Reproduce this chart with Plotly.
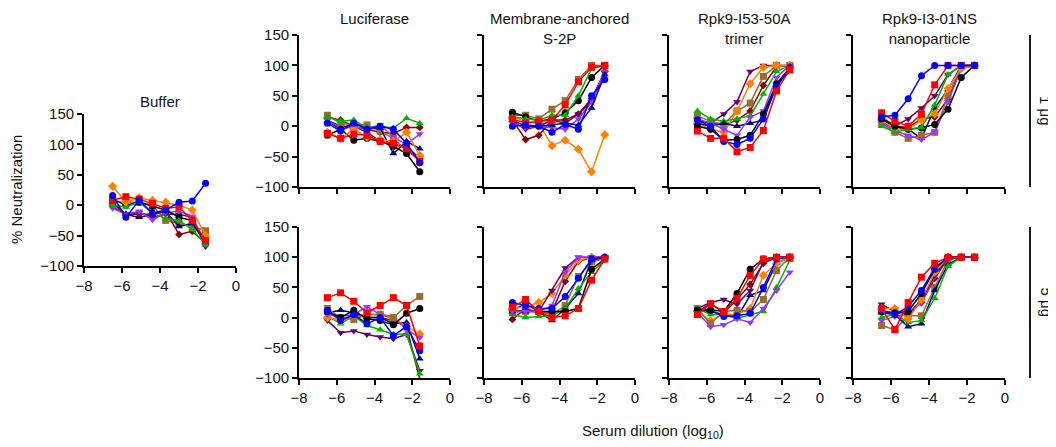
import plotly.graph_objects as go

W, H = 1056, 447
OFF = 8  # page body margin of the browser shifts the figure by 8 px

# ---------------- data ----------------
X_LOG_DIL = [-6.495, -5.796, -5.097, -4.398, -3.699, -3.0, -2.301, -1.602]
X_TICKS = [-8, -6, -4, -2, 0]
Y_TICKS = [-100, -50, 0, 50, 100, 150]
ROW_LABELS = ["1 μg", "5 μg"]
COL_TITLES = ["Luciferase", "Membrane-anchored<br>S-2P", "Rpk9-I53-50A<br>trimer", "Rpk9-I3-01NS<br>nanoparticle"]

BUFFER = {
    "brown":  [5, 5, 5, 0, -25, -30, -35, -42],
    "navy":   [5, -15, -20, -15, -10, -35, -30, -62],
    "maroon": [3, -15, -15, -15, -10, -48, -43, -62],
    "purple": [-3, -15, -12, -20, -15, -15, -20, -68],
    "violet": [-5, -15, -10, -24, -12, -10, -18, -65],
    "black":  [10, 0, 5, -2, -8, -20, -25, -60],
    "green":  [0, -3, 5, -13, -22, -25, -40, -65],
    "orange": [31, 5, 12, 8, 5, 0, -8, -50],
    "red":    [8, 14, 10, 3, -5, -3, -25, -58],
    "blue":   [16, -20, 8, -13, -8, 5, 7, 36],
}

LUC_1 = {
    "purple": [10, 0, 0, -10, -25, -30, -35, -52],
    "maroon": [15, 10, 0, -5, -10, -12, -2, -2],
    "brown":  [18, 5, 2, 2, -8, -20, -40, -55],
    "navy":   [8, -5, 5, -3, -3, -45, -25, -37],
    "violet": [10, -3, -2, -3, 2, -18, -30, -13],
    "green":  [15, 8, 10, -3, 0, -3, 13, 5],
    "black":  [-15, -5, -23, -20, -25, -33, -45, -75],
    "orange": [-10, -20, -5, -18, -22, -25, -10, -48],
    "red":    [-12, -20, -13, -15, -25, -28, -37, -58],
    "blue":   [5, -8, 5, -5, 0, -5, -28, -60],
}

MEM_1 = {
    "orange": [15, 8, 5, -32, -23, -38, -75, -14],
    "maroon": [10, -22, -15, 10, 10, 20, 45, 90],
    "purple": [8, -5, 0, 10, 5, 20, 40, 88],
    "violet": [5, -2, 0, -2, -5, 12, 40, 90],
    "navy":   [10, 0, 0, 2, 5, 2, 30, 85],
    "brown":  [18, 18, 12, 28, 42, 77, 100, 100],
    "black":  [23, 15, 8, 12, 22, 42, 80, 100],
    "green":  [15, 12, 10, 18, 18, 50, 95, 100],
    "red":    [12, 5, 8, 10, 35, 73, 97, 100],
    "blue":   [0, 2, 0, -10, 3, -5, 50, 77],
}

TRI_1 = {
    "purple": [10, 5, 20, 40, 90, 100, 100, 100],
    "maroon": [10, 5, 2, 10, 25, 67, 98, 100],
    "brown":  [17, 8, 3, 25, 38, 82, 100, 100],
    "orange": [5, -5, -10, 25, 70, 97, 100, 100],
    "green":  [25, 12, 8, 12, 17, 53, 90, 100],
    "navy":   [5, 0, 5, 0, 5, 10, 70, 90],
    "violet": [12, 5, -5, -15, 15, 25, 80, 100],
    "black":  [0, -5, -23, -22, -15, 20, 70, 96],
    "blue":   [10, 0, -25, -30, -20, 12, 65, 95],
    "red":    [-8, -20, -20, -42, -35, -7, 58, 93],
}

NP_1 = {
    "maroon": [15, 0, -2, 12, 15, 45, 95, 100],
    "purple": [10, 0, 12, 30, 50, 85, 100, 100],
    "navy":   [8, -5, -5, -20, 30, 60, 100, 100],
    "brown":  [5, -10, -20, -15, -10, 50, 100, 100],
    "violet": [5, -8, -15, -22, -10, 40, 95, 100],
    "orange": [10, -5, -5, 10, 20, 62, 95, 100],
    "black":  [12, 0, -5, -3, 3, 28, 80, 100],
    "green":  [0, -10, -5, -2, 35, 85, 100, 100],
    "red":    [22, 8, 0, 20, 68, 100, 100, 100],
    "blue":   [15, 18, 45, 83, 100, 100, 100, 100],
}

LUC_5 = {
    "maroon": [0, -5, 5, 0, 0, -5, -15, -102],
    "purple": [-5, -25, -22, -28, -32, -35, -28, -88],
    "green":  [3, -10, 3, -13, -20, -28, -27, -93],
    "navy":   [8, 12, 8, 0, 0, -10, -8, -68],
    "orange": [0, -5, 0, 5, 5, -2, -15, -27],
    "violet": [5, 2, 5, 18, 5, 2, -20, -33],
    "brown":  [15, 0, -3, 5, 5, 0, 20, 35],
    "black":  [10, 0, 12, -2, -5, -12, 7, 15],
    "blue":   [12, -5, 5, -10, 0, -30, -15, -55],
    "red":    [33, 41, 27, 8, 20, 33, 20, -47],
}

MEM_5 = {
    "maroon": [-3, 15, 8, 10, 60, 93, 100, 100],
    "brown":  [10, 10, 10, 5, 20, 68, 92, 98],
    "navy":   [10, 10, 10, -5, 15, 40, 95, 100],
    "green":  [5, 0, 2, 3, 15, 48, 75, 95],
    "black":  [12, 23, 10, 10, 10, 15, 80, 97],
    "orange": [15, 18, 25, 40, 70, 95, 100, 100],
    "purple": [10, 12, 10, 45, 82, 100, 100, 100],
    "violet": [10, 10, 10, 20, 75, 100, 100, 100],
    "blue":   [25, 20, 15, 15, 35, 65, 97, 100],
    "red":    [17, 30, 10, 0, 3, 15, 62, 97],
}

TRI_5 = {
    "maroon": [10, 23, 8, 30, 55, 90, 100, 100],
    "purple": [15, 25, 30, 22, 45, 92, 100, 100],
    "navy":   [12, 10, 5, 0, 37, 45, 90, 100],
    "orange": [10, -5, 5, 5, 15, 70, 90, 100],
    "brown":  [15, -10, 10, 12, 10, 30, 78, 100],
    "green":  [15, 5, 5, -2, 5, 10, 50, 95],
    "violet": [8, -15, -12, -2, -8, 15, 45, 75],
    "blue":   [12, 12, 2, 3, 7, 50, 97, 100],
    "black":  [12, 13, 10, 40, 80, 97, 100, 100],
    "red":    [5, 23, 10, 32, 70, 97, 100, 100],
}

NP_5 = {
    "brown":  [-13, -20, 3, 3, 50, 95, 100, 100],
    "navy":   [8, 5, -15, -10, 45, 88, 100, 100],
    "green":  [0, 5, -8, -5, 32, 85, 100, 100],
    "maroon": [10, 8, 5, 25, 65, 98, 100, 100],
    "violet": [-5, 2, 5, 25, 68, 100, 100, 100],
    "purple": [22, 10, 5, 30, 70, 100, 100, 100],
    "orange": [15, 15, -2, 30, 75, 100, 100, 100],
    "black":  [10, 8, 10, 40, 80, 100, 100, 100],
    "blue":   [12, 5, 18, 45, 82, 100, 100, 100],
    "red":    [15, -20, 25, 67, 90, 100, 100, 100],
}

# ---------------- styles ----------------
STYLE = {
    "black":  ("#000000", "circle", 7),
    "red":    ("#FF0000", "square", 7),
    "blue":   ("#0000FF", "circle", 7),
    "green":  ("#00B400", "triangle-up", 7),
    "orange": ("#FF8000", "diamond", 7),
    "brown":  ("#9C6B30", "square", 7),
    "maroon": ("#8B0000", "diamond", 6),
    "purple": ("#660066", "triangle-down", 7),
    "violet": ("#9933FF", "triangle-down", 7),
    "navy":   ("#000080", "triangle-up", 7),
}
FONT = "Liberation Sans, Arial, sans-serif"
TXT = "#111111"


def px(x):
    return (x - OFF) / W


def py(y):
    return 1 - (y - OFF) / H


# panel boxes in screen pixels: (left, right, top, bottom)
COLS = [(299, 450), (484, 635), (669, 820), (853, 1005)]
ROWS = [(35, 187), (227, 378)]
PANELS = [
    (BUFFER, (84, 236, 114, 266), True, True),
    (LUC_1, (*COLS[0], *ROWS[0]), False, True),
    (MEM_1, (*COLS[1], *ROWS[0]), False, False),
    (TRI_1, (*COLS[2], *ROWS[0]), False, False),
    (NP_1, (*COLS[3], *ROWS[0]), False, False),
    (LUC_5, (*COLS[0], *ROWS[1]), True, True),
    (MEM_5, (*COLS[1], *ROWS[1]), True, False),
    (TRI_5, (*COLS[2], *ROWS[1]), True, False),
    (NP_5, (*COLS[3], *ROWS[1]), True, False),
]

fig = go.Figure()
layout = {}
for i, (data, (l, r, t, b), xlab, ylab) in enumerate(PANELS, start=1):
    xa = "x" if i == 1 else f"x{i}"
    ya = "y" if i == 1 else f"y{i}"
    for key, vals in data.items():
        color, sym, size = STYLE[key]
        fig.add_trace(go.Scatter(
            x=X_LOG_DIL, y=vals, mode="lines+markers", xaxis=xa, yaxis=ya,
            line=dict(color=color, width=1.5),
            marker=dict(color=color, symbol=sym, size=size, line=dict(width=0)),
            showlegend=False, cliponaxis=False, hoverinfo="skip",
        ))
    common = dict(showline=True, linecolor="#000000", linewidth=1.8, ticks="outside",
                  ticklen=5, tickwidth=1.8, tickcolor="#000000", showgrid=False,
                  zeroline=False, automargin=False,
                  tickfont=dict(family=FONT, size=15, color=TXT))
    layout["xaxis" if i == 1 else f"xaxis{i}"] = dict(
        common, domain=[px(l), px(r)], range=[-8, 0], tickvals=X_TICKS,
        showticklabels=xlab, anchor=ya, fixedrange=True)
    layout["yaxis" if i == 1 else f"yaxis{i}"] = dict(
        common, domain=[py(b), py(t)], range=[-100, 150], tickvals=Y_TICKS,
        showticklabels=ylab, anchor=xa, fixedrange=True)

fig.update_layout(**layout)

ann = []
# panel titles
ann.append(dict(text="Buffer", x=px(160), y=py(91), yanchor="top"))
for (l, r), title in zip(COLS, COL_TITLES):
    ann.append(dict(text=title, x=px((l + r) / 2), y=py(8), yanchor="top"))
# row labels
shapes = []
for (t, b), lab in zip(ROWS, ROW_LABELS):
    shapes.append(dict(type="line", xref="paper", yref="paper", x0=px(1030), x1=px(1030),
                       y0=py(t), y1=py(b), line=dict(color="#000000", width=1.8)))
    ann.append(dict(text=lab, x=px(1046), y=py((t + b) / 2), textangle=90,
                    xanchor="center", yanchor="middle"))
# axis titles
ann.append(dict(text="% Neutralization", x=px(17), y=py(190), textangle=-90,
                xanchor="center", yanchor="middle"))
ann.append(dict(text="Serum dilution (log<sub>10</sub>)", x=px(653), y=py(431),
                xanchor="center", yanchor="middle"))
for a in ann:
    a.update(xref="paper", yref="paper", showarrow=False,
             font=dict(family=FONT, size=15, color=TXT))
    a.setdefault("xanchor", "center")

fig.update_layout(
    width=W, height=H, margin=dict(l=0, r=0, t=0, b=0, pad=0, autoexpand=False),
    paper_bgcolor="white", plot_bgcolor="white",
    annotations=ann, shapes=shapes,
)
fig.write_html("out.html")
